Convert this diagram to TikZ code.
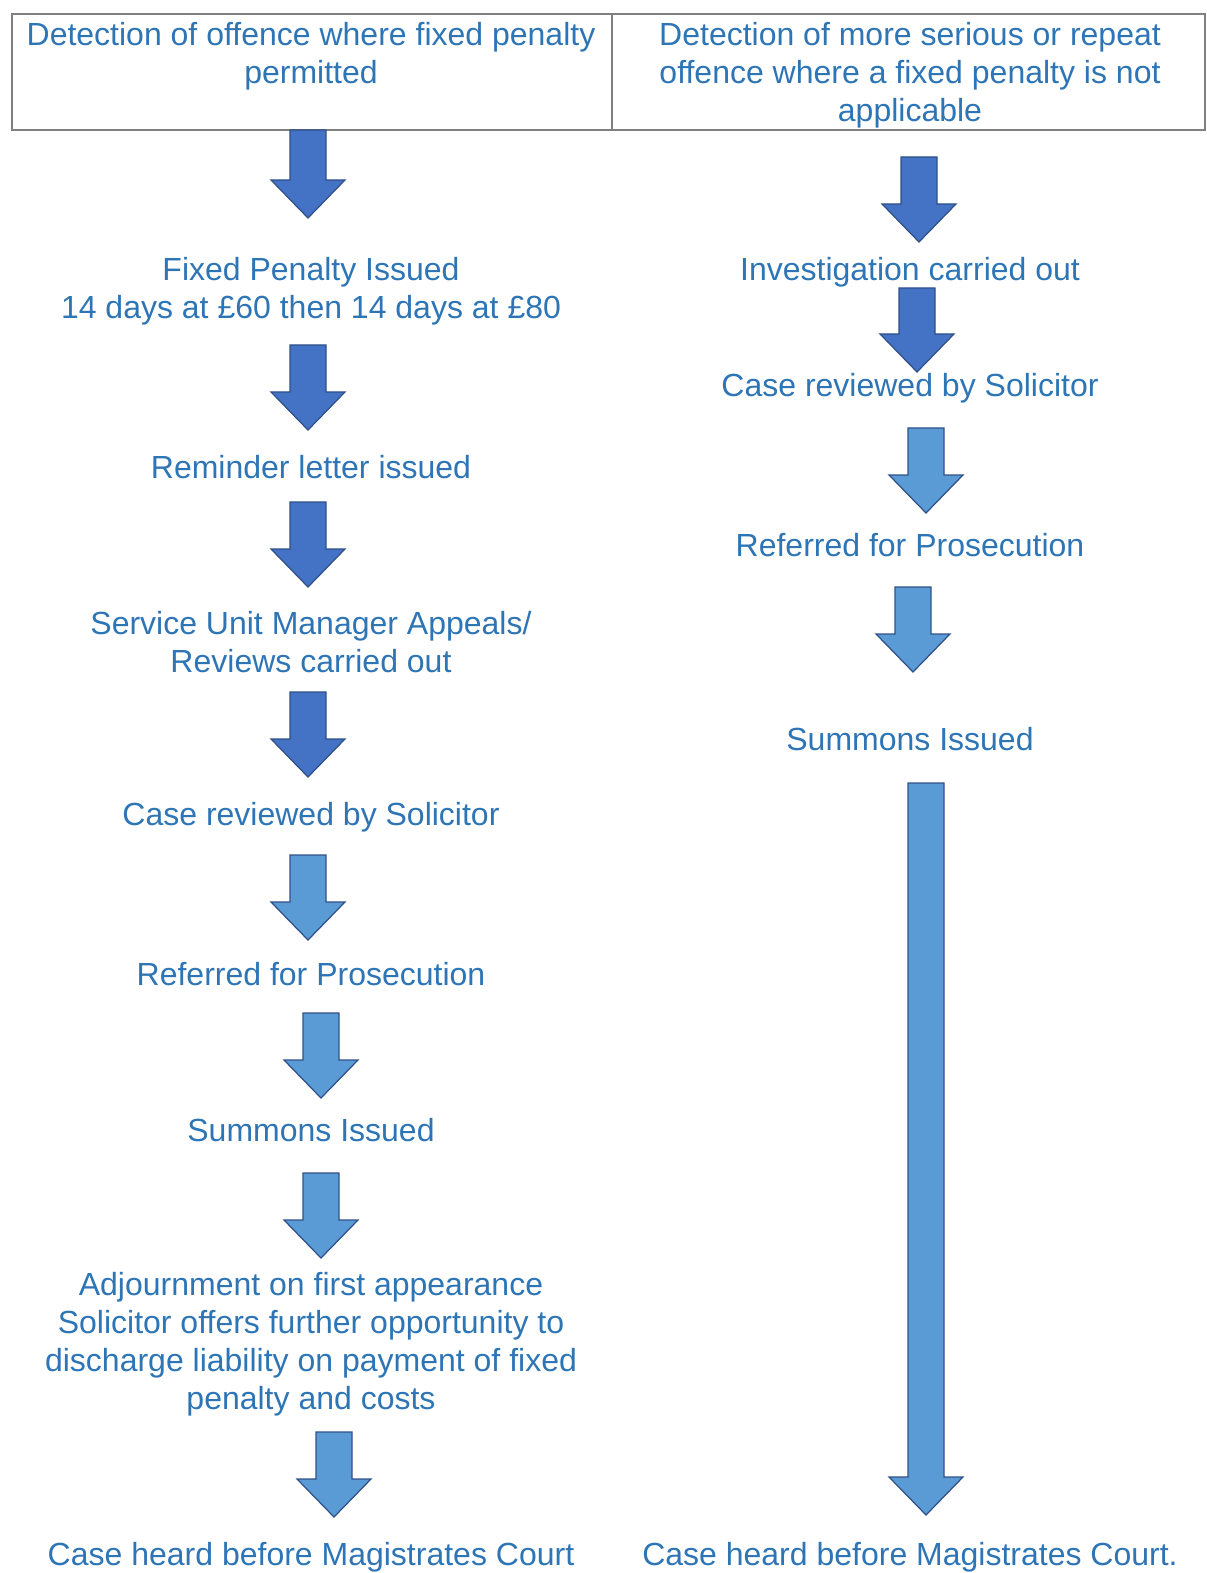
\documentclass[tikz,border=0pt]{standalone}
\usepackage{fontspec}
\setmainfont{Liberation Sans}
\usepackage{xcolor}
\usepackage{tikz}

\definecolor{txtblue}{HTML}{2E75B6}
\definecolor{darkarrow}{HTML}{4472C4}
\definecolor{lightarrow}{HTML}{5B9BD5}
\definecolor{boxgray}{HTML}{808080}

% block arrow: x centre, top y, tip y, fill colour
\newcommand{\blkarrow}[4]{%
  \draw[arrowedge, fill=#4] (#1-18,#2) -- (#1+18,#2) -- (#1+18,#3-38)
    -- (#1+37,#3-38) -- (#1,#3) -- (#1-37,#3-38) -- (#1-18,#3-38) -- cycle;}

\begin{document}
\begin{tikzpicture}[x=0.01cm, y=-0.01cm,
    steptext/.style={text=txtblue, font=\fontsize{9.1}{10.8}\selectfont,
      align=center, inner sep=0pt},
    arrowedge/.style={draw=darkarrow!70!black, line width=0.35pt, line join=miter}]
  \useasboundingbox (0,0) rectangle (1207,1573);

  % header boxes
  \draw[boxgray, line width=0.8pt] (12,14) rectangle (1205,130);
  \draw[boxgray, line width=0.8pt] (612,14) -- (612,130);
  \node[steptext] (lhead) at (311,56) {Detection of offence where fixed penalty\\permitted};
  \node[steptext] (rhead) at (910,75) {Detection of more serious or repeat\\offence where a fixed penalty is not\\applicable};

  % left column
  \node[steptext] (lfixed) at (311,291) {Fixed Penalty Issued\\14 days at £60 then 14 days at £80};
  \node[steptext] (lremind) at (311,467) {Reminder letter issued};
  \node[steptext] (lappeal) at (311,642) {Service Unit Manager Appeals/\\Reviews carried out};
  \node[steptext] (lreview) at (311,817) {Case reviewed by Solicitor};
  \node[steptext] (lrefer) at (311,974) {Referred for Prosecution};
  \node[steptext] (lsummons) at (311,1130) {Summons Issued};
  \node[steptext] (ladjourn) at (311,1344) {Adjournment on first appearance\\Solicitor offers further opportunity to\\discharge liability on payment of fixed\\penalty and costs};
  \node[steptext] (lcourt) at (311,1557) {Case heard before Magistrates Court};

  \blkarrow{308}{130}{218}{darkarrow}
  \blkarrow{308}{345}{430}{darkarrow}
  \blkarrow{308}{502}{587}{darkarrow}
  \blkarrow{308}{692}{777}{darkarrow}
  \blkarrow{308}{855}{940}{lightarrow}
  \blkarrow{321}{1013}{1098}{lightarrow}
  \blkarrow{321}{1173}{1258}{lightarrow}
  \blkarrow{334}{1432}{1517}{lightarrow}

  % right column
  \node[steptext] (rinvest) at (910,272) {Investigation carried out};
  \node[steptext] (rreview) at (910,388) {Case reviewed by Solicitor};
  \node[steptext] (rrefer) at (910,545) {Referred for Prosecution};
  \node[steptext] (rsummons) at (910,739) {Summons Issued};
  \node[steptext] (rcourt) at (910,1557) {Case heard before Magistrates Court.};

  \blkarrow{919}{157}{242}{darkarrow}
  \blkarrow{917}{288}{372}{darkarrow}
  \blkarrow{926}{428}{513}{lightarrow}
  \blkarrow{913}{587}{672}{lightarrow}
  \blkarrow{926}{783}{1515}{lightarrow}
\end{tikzpicture}
\end{document}
